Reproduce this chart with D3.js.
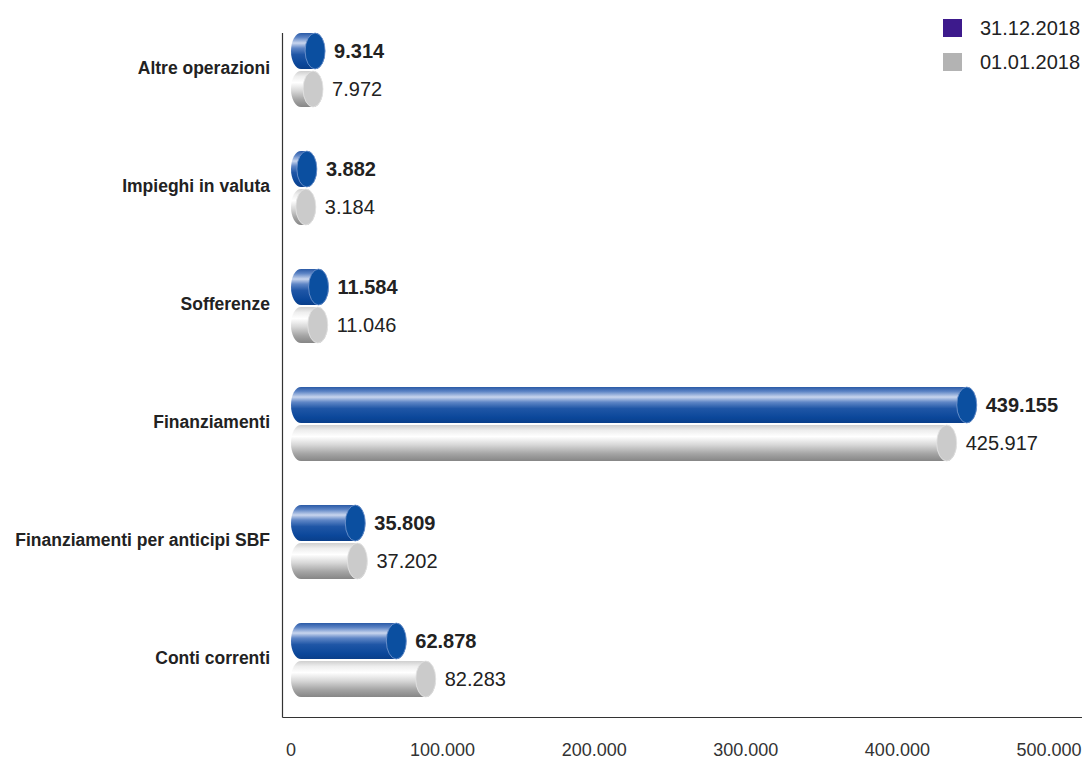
<!DOCTYPE html>
<html>
<head>
<meta charset="utf-8">
<script src="https://cdn.jsdelivr.net/npm/d3@7/dist/d3.min.js"></script>
<style>
  body { margin: 0; background: #fff; }
  svg { display: block; font-family: "Liberation Sans", Arial, sans-serif; }
</style>
</head>
<body>
<div id="frame"></div>
<script>
'use strict'

var categories = ["Altre operazioni", "Impieghi in valuta", "Sofferenze", "Finanziamenti",
  "Finanziamenti per anticipi SBF", "Conti correnti"]
var values2018 = [9314, 3882, 11584, 439155, 35809, 62878]
var values0101 = [7972, 3184, 11046, 425917, 37202, 82283]
var seriesNames = ["31.12.2018", "01.01.2018"]
var tickValues = [0, 100000, 200000, 300000, 400000, 500000]

var W = 1082, H = 759
var it = d3.formatLocale({ decimal: ",", thousands: ".", grouping: [3], currency: ["", ""] })
var fmt = it.format(",d")

var svg = d3.select("#frame").append("svg")
  .attr("width", W)
  .attr("height", H)

var defs = svg.append("defs")

// cylinder shading, top to bottom
var blueGrad = defs.append("linearGradient")
  .attr("id", "gBlue").attr("x1", 0).attr("y1", 0).attr("x2", 0).attr("y2", 1)
var blueStops = [[0, "#2a5aa6"], [0.12, "#5a82c4"], [0.28, "#c9d6ee"], [0.42, "#5f86c6"],
  [0.6, "#1f56a6"], [0.85, "#0b479a"], [1, "#0a3f8a"]]
blueStops.forEach(s => blueGrad.append("stop").attr("offset", s[0]).attr("stop-color", s[1]))

var grayGrad = defs.append("linearGradient")
  .attr("id", "gGray").attr("x1", 0).attr("y1", 0).attr("x2", 0).attr("y2", 1)
var grayStops = [[0, "#cfcfcf"], [0.15, "#eeeeee"], [0.32, "#ffffff"], [0.55, "#d8d8d8"],
  [0.8, "#a4a4a4"], [1, "#868686"]]
grayStops.forEach(s => grayGrad.append("stop").attr("offset", s[0]).attr("stop-color", s[1]))

var x = d3.scaleLinear().domain([0, 500000]).range([291, 1049])
var y = d3.scaleBand().domain(categories).range([11, 719]).padding(0)

var rx = 10, ry = 18, capOff = 10

// axes lines
svg.append("line")
  .attr("x1", 282.5).attr("x2", 282.5).attr("y1", 33).attr("y2", 717.5)
  .attr("stroke", "#333").attr("stroke-width", 1.2)
svg.append("line")
  .attr("x1", 282.5).attr("x2", W).attr("y1", 717.5).attr("y2", 717.5)
  .attr("stroke", "#333").attr("stroke-width", 1.2)

// x tick labels
svg.append("g").selectAll("text")
  .data(tickValues)
  .enter().append("text")
  .attr("x", d => x(d))
  .attr("y", 756)
  .attr("text-anchor", "middle")
  .style("font-size", "18px")
  .style("fill", "#333")
  .text(d => fmt(d))

// category labels
svg.append("g").selectAll("text")
  .data(categories)
  .enter().append("text")
  .attr("x", 270)
  .attr("y", d => y(d) + y.bandwidth() / 2 - 2)
  .attr("dy", "0.35em")
  .attr("text-anchor", "end")
  .style("font-size", "17.5px")
  .style("font-weight", "bold")
  .style("fill", "#222")
  .text(d => d)

function cylPath(x1, x2, cy) {
  return "M" + x1 + "," + (cy - ry) +
    " L" + x2 + "," + (cy - ry) +
    " A" + rx + "," + ry + " 0 0 1 " + x2 + "," + (cy + ry) +
    " L" + x1 + "," + (cy + ry) +
    " A" + rx + "," + ry + " 0 0 1 " + x1 + "," + (cy - ry) + " Z"
}

var series = [
  { vals: values2018, off: -19, grad: "url(#gBlue)", cap: "#0b4fa0", capLine: "#7a9bd0", bold: true },
  { vals: values0101, off: 19, grad: "url(#gGray)", cap: "#cbcbcb", capLine: "#e4e4e4", bold: false }
]

series.forEach(function(s) {
  var g = svg.append("g")
  var rows = g.selectAll("g.bar")
    .data(categories.map((c, i) => ({ c: c, v: s.vals[i] })))
    .enter().append("g").attr("class", "bar")

  rows.each(function(d) {
    var cy = y(d.c) + y.bandwidth() / 2 + s.off
    var x1 = x(0) + capOff
    var x2 = x(d.v) + capOff
    var el = d3.select(this)
    el.append("path")
      .attr("d", cylPath(x1, x2, cy))
      .attr("fill", s.grad)
    el.append("ellipse")
      .attr("cx", x2).attr("cy", cy)
      .attr("rx", rx).attr("ry", ry)
      .attr("fill", s.cap)
      .attr("stroke", s.capLine)
      .attr("stroke-width", 0.8)
    el.append("text")
      .attr("x", x2 + rx + 9)
      .attr("y", cy)
      .attr("dy", "0.36em")
      .style("font-size", "20px")
      .style("font-weight", s.bold ? "bold" : "normal")
      .style("fill", "#222")
      .text(fmt(d.v))
  })
})

// legend
var legend = svg.append("g")
var legendColors = ["#3d1a8c", "#b3b3b3"]
seriesNames.forEach(function(n, i) {
  legend.append("rect")
    .attr("x", 943).attr("y", 19 + i * 34)
    .attr("width", 19).attr("height", 18)
    .attr("fill", legendColors[i])
  legend.append("text")
    .attr("x", 980).attr("y", 28 + i * 34)
    .attr("dy", "0.36em")
    .style("font-size", "20px")
    .style("fill", "#222")
    .text(n)
})
</script>
</body>
</html>
